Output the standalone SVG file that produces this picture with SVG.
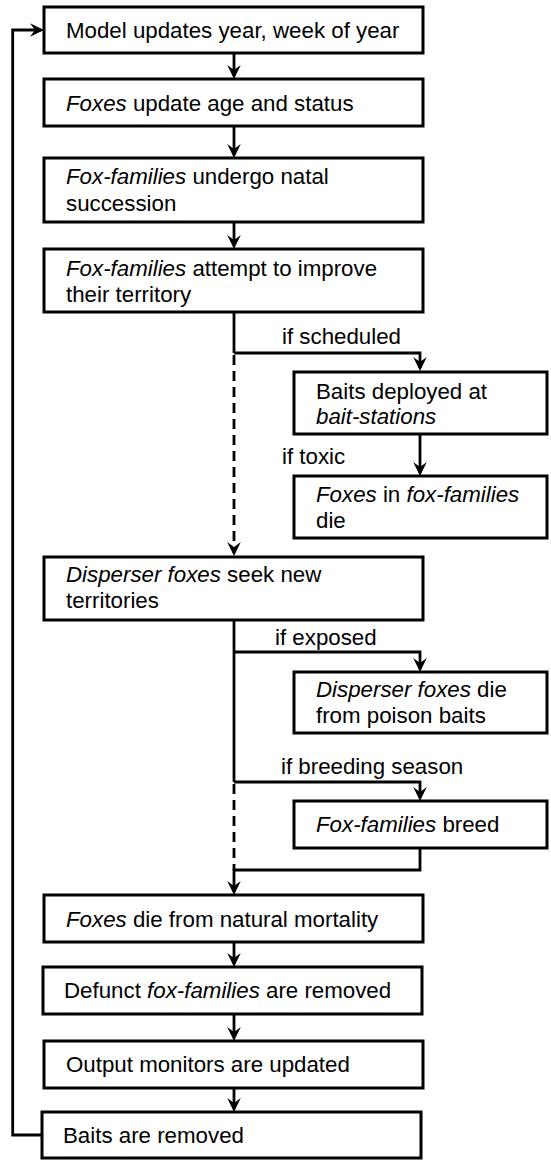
<svg xmlns="http://www.w3.org/2000/svg" width="551" height="1166" viewBox="0 0 551 1166">
<style>
.box{fill:#fff;stroke:#000;stroke-width:3}
.t{font-family:"Liberation Sans",Arial,Helvetica,sans-serif;font-size:22.3px;fill:#000}
.i{font-style:italic}
.c{fill:none;stroke:#000;stroke-width:2.8;marker-end:url(#ah)}
.n{fill:none;stroke:#000;stroke-width:2.8}
.d{stroke-dasharray:10 6}
</style>
<defs>
<marker id="ah" markerUnits="userSpaceOnUse" viewBox="-12 -8 16 16" markerWidth="16" markerHeight="16" refX="0" refY="0" orient="auto">
<path d="M3,0 L-11,-6.8 L-6,0 L-11,6.8 Z" fill="#000"/>
</marker>
</defs>
<rect width="551" height="1166" fill="#fff"/>
<g id="connectors">
<path class="c" d="M42,1135 H12.7 V30 H41"/>
<path class="c" d="M234,53 V76"/>
<path class="c" d="M234,126 V155"/>
<path class="c" d="M234,222 V246"/>
<path class="n" d="M234,312 V353"/>
<path class="c" d="M234,353 H420 V368"/>
<path class="c d" d="M234,355 V553"/>
<path class="c" d="M420,434 V473"/>
<path class="n" d="M234,620 V782"/>
<path class="c" d="M234,652 H420 V669"/>
<path class="c" d="M234,782 H420 V798"/>
<path class="n d" d="M234,784 V870"/>
<path class="c" d="M420,848 V870 H234 V892"/>
<path class="c" d="M234,942 V964"/>
<path class="c" d="M234,1014 V1038"/>
<path class="c" d="M234,1088 V1109"/>
<text class="t" x="282" y="344">if scheduled</text>
<text class="t" x="282" y="464">if toxic</text>
<text class="t" x="275" y="645">if exposed</text>
<text class="t" x="281" y="774">if breeding season</text>
</g>
<g id="n1"><rect class="box" x="44" y="7" width="379" height="46"/><text class="t" x="66" y="38">Model updates year, week of year</text></g>
<g id="n2"><rect class="box" x="44" y="79" width="379" height="47"/><text class="t" x="66" y="111"><tspan class="i">Foxes</tspan> update age and status</text></g>
<g id="n3"><rect class="box" x="44" y="158" width="379" height="64"/><text class="t" x="66" y="184"><tspan class="i">Fox-families</tspan> undergo natal</text><text class="t" x="66" y="211">succession</text></g>
<g id="n4"><rect class="box" x="44" y="249" width="379" height="63"/><text class="t" x="66" y="276"><tspan class="i">Fox-families</tspan> attempt to improve</text><text class="t" x="66" y="302">their territory</text></g>
<g id="n5"><rect class="box" x="294" y="372" width="253" height="62"/><text class="t" x="316" y="399">Baits deployed at</text><text class="t i" x="316" y="424">bait-stations</text></g>
<g id="n6"><rect class="box" x="294" y="476" width="253" height="62"/><text class="t" x="316" y="502"><tspan class="i">Foxes</tspan> in <tspan class="i">fox-families</tspan></text><text class="t" x="316" y="528">die</text></g>
<g id="n7"><rect class="box" x="44" y="557" width="379" height="63"/><text class="t" x="66" y="582"><tspan class="i">Disperser foxes</tspan> seek new</text><text class="t" x="66" y="608">territories</text></g>
<g id="n8"><rect class="box" x="294" y="672" width="253" height="61"/><text class="t" x="316" y="697"><tspan class="i">Disperser foxes</tspan> die</text><text class="t" x="316" y="723">from poison baits</text></g>
<g id="n9"><rect class="box" x="294" y="801" width="253" height="47"/><text class="t" x="316" y="832"><tspan class="i">Fox-families</tspan> breed</text></g>
<g id="n10"><rect class="box" x="44" y="895" width="379" height="47"/><text class="t" x="66" y="927"><tspan class="i">Foxes</tspan> die from natural mortality</text></g>
<g id="n11"><rect class="box" x="43" y="967" width="379" height="47"/><text class="t" x="64" y="998">Defunct <tspan class="i">fox-families</tspan> are removed</text></g>
<g id="n12"><rect class="box" x="44" y="1041" width="379" height="47"/><text class="t" x="66" y="1072">Output monitors are updated</text></g>
<g id="n13"><rect class="box" x="42" y="1112" width="379" height="46"/><text class="t" x="63" y="1143">Baits are removed</text></g>
</svg>
